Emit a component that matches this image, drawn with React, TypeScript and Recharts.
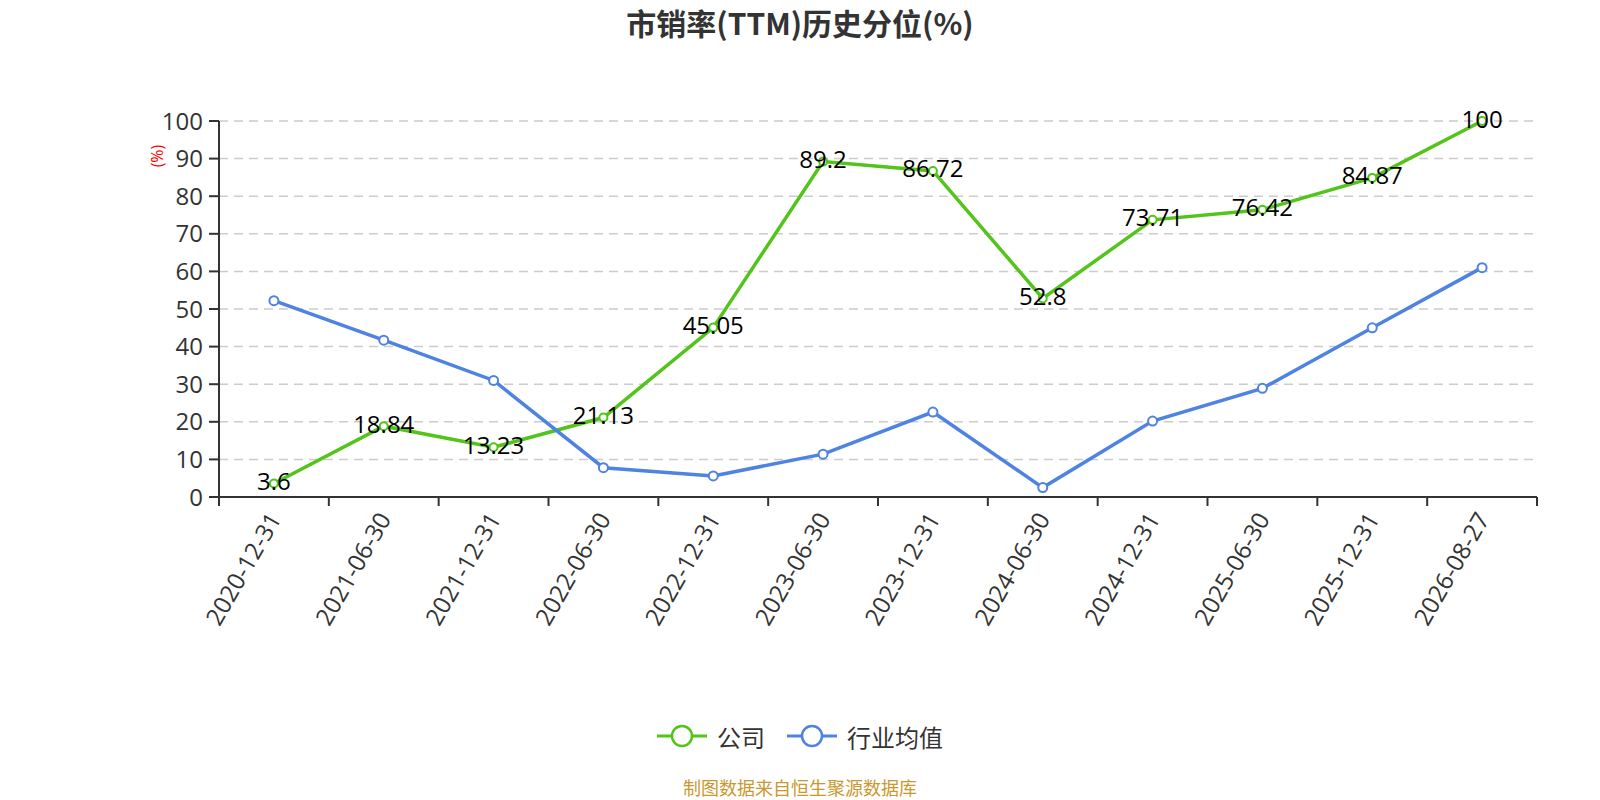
import { CartesianGrid, Legend, Line, LineChart, XAxis, YAxis, LabelList } from "recharts";

const categories = [
  "2020-12-31",
  "2021-06-30",
  "2021-12-31",
  "2022-06-30",
  "2022-12-31",
  "2023-06-30",
  "2023-12-31",
  "2024-06-30",
  "2024-12-31",
  "2025-06-30",
  "2025-12-31",
  "2026-08-27",
];
const companyValues = [3.6, 18.84, 13.23, 21.13, 45.05, 89.2, 86.72, 52.8, 73.71, 76.42, 84.87, 100];
const industryValues = [52.2, 41.7, 31.0, 7.8, 5.6, 11.4, 22.6, 2.5, 20.2, 28.9, 45.0, 61.0];
const yTicks = [0, 10, 20, 30, 40, 50, 60, 70, 80, 90, 100];

const GREEN = "#52c41a";
const BLUE = "#4e82e3";
const AXIS = "#333";
const FONT = '"Open Sans", "Noto Sans CJK SC", sans-serif';

const W = 1600;
const H = 800;
const PLOT_LEFT = 219;
const PLOT_RIGHT = 1537;
const HALF_BAND = (PLOT_RIGHT - PLOT_LEFT) / (categories.length * 2);

const data = categories.map((date, i) => ({
  date,
  company: companyValues[i],
  industry: industryValues[i],
}));

const series = [
  { key: "company", name: "公司", color: GREEN },
  { key: "industry", name: "行业均值", color: BLUE },
];

const XTick = (props: any) => {
  const { x, y, payload, index } = props;
  const last = index === categories.length - 1;
  return (
    <g>
      <line x1={x - HALF_BAND} x2={x - HALF_BAND} y1={y} y2={y + 9} stroke={AXIS} strokeWidth={2} />
      {last && <line x1={x + HALF_BAND} x2={x + HALF_BAND} y1={y} y2={y + 9} stroke={AXIS} strokeWidth={2} />}
      <text
        x={x}
        y={y + 17}
        transform={`rotate(-60, ${x}, ${y + 17})`}
        textAnchor="end"
        dominantBaseline="central"
        fontSize={24}
        fill={AXIS}
        fontFamily={FONT}
      >
        {payload.value}
      </text>
    </g>
  );
};

const ValueLabel = (props: any) => {
  const { x, y, value } = props;
  return (
    <text x={x} y={y - 3} textAnchor="middle" dominantBaseline="central" fontSize={24} fill="#000" fontFamily={FONT}>
      {value}
    </text>
  );
};

const UnitLabel = (props: any) => {
  const { viewBox } = props;
  const cx = viewBox.x - 2;
  const cy = viewBox.y + 35;
  return (
    <text
      x={cx}
      y={cy}
      transform={`rotate(-90, ${cx}, ${cy})`}
      textAnchor="middle"
      dominantBaseline="central"
      fontSize={16}
      fill="red"
      fontFamily={FONT}
    >
      (%)
    </text>
  );
};

const LegendContent = () => (
  <div
    style={{ display: "flex", justifyContent: "center", alignItems: "center", gap: 22, height: 40, fontFamily: FONT }}
  >
    {series.map((s) => (
      <div key={s.key} style={{ display: "flex", alignItems: "center" }}>
        <svg width={50} height={26}>
          <line x1={0} x2={50} y1={13} y2={13} stroke={s.color} strokeWidth={3} />
          <circle cx={25} cy={13} r={10} fill="#fff" stroke={s.color} strokeWidth={2.5} />
        </svg>
        <span style={{ marginLeft: 10, fontSize: 24, color: AXIS }}>{s.name}</span>
      </div>
    ))}
  </div>
);

export default function App() {
  return (
    <div style={{ position: "fixed", left: 0, top: 0, width: W, height: H, background: "#fff", fontFamily: FONT }}>
      <div
        style={{
          position: "absolute",
          top: 3,
          left: 0,
          width: W,
          textAlign: "center",
          fontSize: 30,
          lineHeight: "38px",
          fontWeight: "bold",
          color: AXIS,
          fontFamily: '"Noto Sans CJK SC", sans-serif',
        }}
      >
        市销率(TTM)历史分位(%)
      </div>
      <LineChart
        width={W}
        height={H}
        data={data}
        margin={{ top: 121, right: W - PLOT_RIGHT, left: PLOT_LEFT - 60, bottom: 113 }}
      >
        <CartesianGrid vertical={false} stroke="#ccc" strokeWidth={1.5} strokeDasharray="9 6" />
        <XAxis
          dataKey="date"
          interval={0}
          height={150}
          padding={{ left: HALF_BAND, right: HALF_BAND }}
          tickLine={false}
          tickSize={0}
          tickMargin={0}
          axisLine={{ stroke: AXIS, strokeWidth: 2 }}
          tick={<XTick />}
        />
        <YAxis
          width={60}
          domain={[0, 100]}
          ticks={yTicks}
          interval={0}
          tickSize={10}
          tickMargin={6}
          axisLine={{ stroke: AXIS, strokeWidth: 2 }}
          tickLine={{ stroke: AXIS, strokeWidth: 2 }}
          tick={{ fontSize: 24, fill: AXIS, fontFamily: FONT }}
          label={<UnitLabel />}
        />
        <Legend
          verticalAlign="bottom"
          height={40}
          content={<LegendContent />}
          wrapperStyle={{ top: 716, bottom: "auto", left: 0, width: W }}
        />
        <Line
          dataKey="company"
          name="公司"
          stroke={GREEN}
          strokeWidth={3.5}
          dot={{ r: 4, fill: "#fff", stroke: GREEN, strokeWidth: 2 }}
          isAnimationActive={false}
        >
          <LabelList dataKey="company" content={<ValueLabel />} />
        </Line>
        <Line
          dataKey="industry"
          name="行业均值"
          stroke={BLUE}
          strokeWidth={3.5}
          dot={{ r: 4.5, fill: "#fff", stroke: BLUE, strokeWidth: 2 }}
          isAnimationActive={false}
        />
      </LineChart>
      <div
        style={{
          position: "absolute",
          top: 775,
          left: 0,
          width: W,
          textAlign: "center",
          fontSize: 18,
          lineHeight: "24px",
          color: "#c9982e",
          fontFamily: '"Noto Sans CJK SC", sans-serif',
        }}
      >
        制图数据来自恒生聚源数据库
      </div>
    </div>
  );
}
